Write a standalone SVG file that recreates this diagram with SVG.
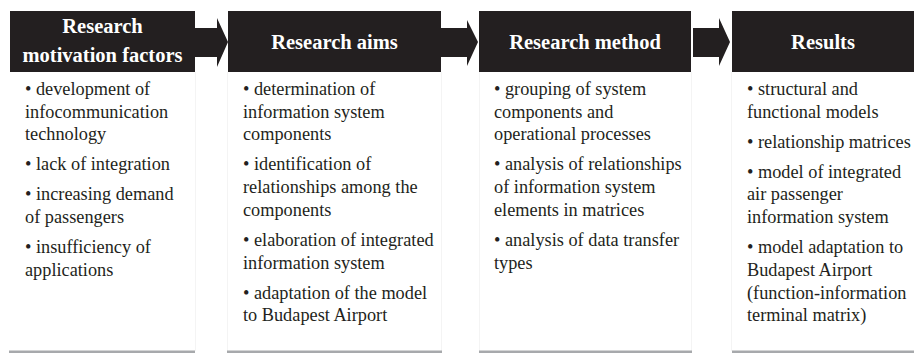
<svg xmlns="http://www.w3.org/2000/svg" width="914" height="363" viewBox="0 0 914 363">
  <style>
    .head { fill: #231f20; }
    .title { font-family: "Liberation Serif", "Times New Roman", serif; font-weight: 700; font-size: 20.5px; fill: #ffffff; text-anchor: middle; }
    .body { font-family: "Liberation Serif", "Times New Roman", serif; font-size: 18.3px; fill: #231f20; }
    .rule { fill: #a7a9ac; }
    .cell { stroke: #f4f4f4; stroke-width: 1; }
    .arrow { fill: #231f20; }
  </style>
  <rect width="914" height="363" fill="#ffffff"/>

  <!-- faint column borders below the header bars -->
  <g id="cell-borders">
    <line class="cell" x1="195.5" y1="72" x2="195.5" y2="351"/>
    <line class="cell" x1="227.5" y1="72" x2="227.5" y2="351"/>
    <line class="cell" x1="441.5" y1="72" x2="441.5" y2="351"/>
    <line class="cell" x1="479.5" y1="72" x2="479.5" y2="351"/>
    <line class="cell" x1="691.5" y1="72" x2="691.5" y2="351"/>
    <line class="cell" x1="731.5" y1="72" x2="731.5" y2="351"/>
  </g>

  <g id="motivation">
    <rect class="head" x="10" y="11" width="185" height="61"/>
    <text class="title" x="102.5" y="33">Research</text>
    <text class="title" x="102.5" y="62">motivation factors</text>
    <text class="body">
      <tspan x="25" y="95">• development of</tspan>
      <tspan x="25" y="117.7">infocommunication</tspan>
      <tspan x="25" y="140.4">technology</tspan>
      <tspan x="25" y="170.4">• lack of integration</tspan>
      <tspan x="25" y="200.4">• increasing demand</tspan>
      <tspan x="25" y="223.1">of passengers</tspan>
      <tspan x="25" y="253.1">• insufficiency of</tspan>
      <tspan x="25" y="275.8">applications</tspan>
    </text>
    <rect class="rule" x="9" y="350.5" width="186" height="2.5"/>
  </g>

  <g id="aims">
    <rect class="head" x="228" y="11" width="213" height="61"/>
    <text class="title" x="334.5" y="49">Research aims</text>
    <text class="body">
      <tspan x="243" y="95">• determination of</tspan>
      <tspan x="243" y="117.7">information system</tspan>
      <tspan x="243" y="140.4">components</tspan>
      <tspan x="243" y="170.4">• identification of</tspan>
      <tspan x="243" y="193.1">relationships among the</tspan>
      <tspan x="243" y="215.8">components</tspan>
      <tspan x="243" y="245.8">• elaboration of integrated</tspan>
      <tspan x="243" y="268.5">information system</tspan>
      <tspan x="243" y="298.5">• adaptation of the model</tspan>
      <tspan x="243" y="321.2">to Budapest Airport</tspan>
    </text>
    <rect class="rule" x="227" y="350.5" width="215" height="2.5"/>
  </g>

  <g id="method">
    <rect class="head" x="479" y="11" width="212" height="61"/>
    <text class="title" x="585" y="49">Research method</text>
    <text class="body">
      <tspan x="494" y="95">• grouping of system</tspan>
      <tspan x="494" y="117.7">components and</tspan>
      <tspan x="494" y="140.4">operational processes</tspan>
      <tspan x="494" y="170.4">• analysis of relationships</tspan>
      <tspan x="494" y="193.1">of information system</tspan>
      <tspan x="494" y="215.8">elements in matrices</tspan>
      <tspan x="494" y="245.8">• analysis of data transfer</tspan>
      <tspan x="494" y="268.5">types</tspan>
    </text>
    <rect class="rule" x="479" y="350.5" width="213" height="2.5"/>
  </g>

  <g id="results">
    <rect class="head" x="732" y="11" width="182" height="61"/>
    <text class="title" x="823" y="49">Results</text>
    <text class="body">
      <tspan x="747" y="95">• structural and</tspan>
      <tspan x="747" y="117.7">functional models</tspan>
      <tspan x="747" y="147.7">• relationship matrices</tspan>
      <tspan x="747" y="177.7">• model of integrated</tspan>
      <tspan x="747" y="200.4">air passenger</tspan>
      <tspan x="747" y="223.1">information system</tspan>
      <tspan x="747" y="253.1">• model adaptation to</tspan>
      <tspan x="747" y="275.8">Budapest Airport</tspan>
      <tspan x="747" y="298.5">(function-information</tspan>
      <tspan x="747" y="321.2">terminal matrix)</tspan>
    </text>
    <rect class="rule" x="732" y="350.5" width="182" height="2.5"/>
  </g>

  <!-- block arrows between the stages -->
  <g id="connectors">
    <path class="arrow" d="M195,28 H217 V18 L228,42 L217,67 V57 H195 Z"/>
    <path class="arrow" d="M441,28 H467 V20 L478,42 L467,66 V57 H441 Z"/>
    <path class="arrow" d="M693,28 H719 V18 L730,42 L719,66 V57 H693 Z"/>
  </g>
</svg>
